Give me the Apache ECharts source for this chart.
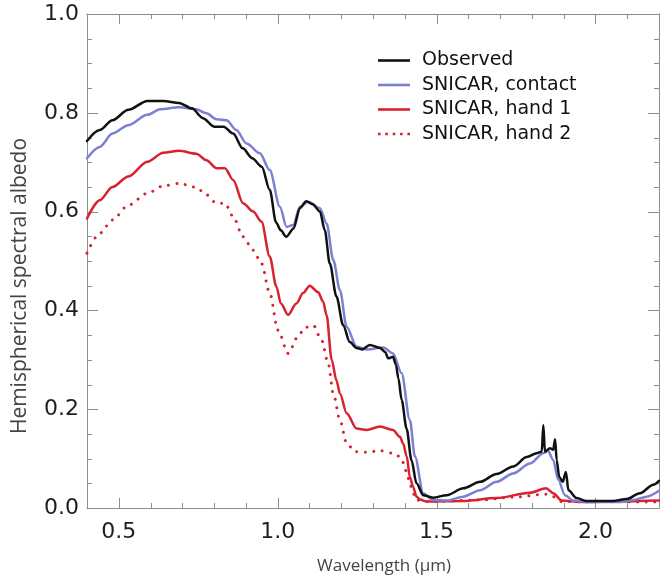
<!DOCTYPE html>
<html>
<head>
<meta charset="utf-8">
<script src="https://cdn.jsdelivr.net/npm/echarts@6/dist/echarts.min.js"></script>
<style>
  html, body { margin: 0; background: #fff; }
  #chart { width: 660px; height: 576px; }
</style>
</head>
<body>
<div id="chart"></div>
<script>
// wavelength (um) and albedo
const obsWl = [0.40, 0.44, 0.48, 0.53, 0.59, 0.64, 0.69, 0.73, 0.765, 0.80, 0.83, 0.86, 0.89, 0.92, 0.95, 0.975, 0.995, 1.01, 1.027, 1.05, 1.07, 1.09, 1.11, 1.133, 1.148, 1.164, 1.185, 1.206, 1.227, 1.248, 1.265, 1.29, 1.322, 1.338, 1.348, 1.363, 1.372, 1.38, 1.39, 1.406, 1.421, 1.437, 1.458, 1.489, 1.532, 1.584, 1.637, 1.689, 1.741, 1.784, 1.815, 1.831, 1.836, 1.841, 1.857, 1.867, 1.873, 1.878, 1.886, 1.897, 1.907, 1.915, 1.941, 1.972, 2.055, 2.098, 2.14, 2.182, 2.2];
const obsAlb = [0.743, 0.765, 0.785, 0.806, 0.824, 0.824, 0.820, 0.809, 0.789, 0.772, 0.772, 0.758, 0.728, 0.708, 0.691, 0.644, 0.578, 0.562, 0.549, 0.566, 0.607, 0.621, 0.615, 0.600, 0.563, 0.495, 0.428, 0.370, 0.336, 0.324, 0.321, 0.330, 0.324, 0.316, 0.303, 0.306, 0.290, 0.262, 0.219, 0.160, 0.097, 0.050, 0.026, 0.021, 0.026, 0.040, 0.053, 0.069, 0.084, 0.103, 0.111, 0.114, 0.168, 0.114, 0.121, 0.118, 0.139, 0.097, 0.063, 0.053, 0.073, 0.036, 0.020, 0.014, 0.014, 0.018, 0.030, 0.047, 0.055];

const contactWl = [0.40, 0.44, 0.48, 0.53, 0.59, 0.63, 0.69, 0.744, 0.776, 0.807, 0.839, 0.87, 0.902, 0.944, 0.975, 1.007, 1.028, 1.049, 1.07, 1.096, 1.133, 1.154, 1.175, 1.196, 1.217, 1.248, 1.28, 1.332, 1.363, 1.39, 1.416, 1.432, 1.458, 1.489, 1.532, 1.584, 1.637, 1.689, 1.741, 1.794, 1.836, 1.851, 1.867, 1.883, 1.904, 1.93, 1.972, 2.077, 2.119, 2.161, 2.2];
const contactAlb = [0.708, 0.731, 0.758, 0.775, 0.796, 0.807, 0.811, 0.807, 0.799, 0.787, 0.785, 0.765, 0.738, 0.718, 0.684, 0.610, 0.569, 0.573, 0.610, 0.620, 0.607, 0.576, 0.502, 0.441, 0.367, 0.327, 0.321, 0.325, 0.313, 0.273, 0.178, 0.104, 0.030, 0.016, 0.015, 0.023, 0.036, 0.053, 0.070, 0.090, 0.111, 0.116, 0.097, 0.057, 0.026, 0.015, 0.012, 0.012, 0.016, 0.023, 0.035];

const hand1Wl = [0.40, 0.44, 0.48, 0.53, 0.59, 0.64, 0.69, 0.744, 0.776, 0.807, 0.834, 0.86, 0.891, 0.923, 0.949, 0.975, 0.996, 1.01, 1.033, 1.059, 1.08, 1.101, 1.127, 1.143, 1.154, 1.17, 1.185, 1.196, 1.217, 1.248, 1.28, 1.322, 1.363, 1.385, 1.395, 1.406, 1.416, 1.426, 1.437, 1.448, 1.469, 1.584, 1.689, 1.794, 1.845, 1.867, 1.894, 1.951, 2.2];
const hand1Alb = [0.586, 0.623, 0.650, 0.671, 0.701, 0.719, 0.723, 0.717, 0.704, 0.688, 0.688, 0.664, 0.617, 0.600, 0.580, 0.509, 0.448, 0.414, 0.391, 0.414, 0.435, 0.450, 0.437, 0.418, 0.390, 0.300, 0.258, 0.232, 0.192, 0.161, 0.158, 0.165, 0.158, 0.144, 0.130, 0.105, 0.063, 0.043, 0.023, 0.017, 0.013, 0.014, 0.020, 0.031, 0.040, 0.030, 0.015, 0.012, 0.015];

const hand2Wl = [0.40, 0.44, 0.48, 0.53, 0.59, 0.64, 0.69, 0.744, 0.776, 0.807, 0.834, 0.86, 0.891, 0.923, 0.949, 0.975, 1.001, 1.033, 1.064, 1.085, 1.112, 1.138, 1.159, 1.175, 1.196, 1.217, 1.243, 1.28, 1.322, 1.363, 1.385, 1.395, 1.406, 1.416, 1.426, 1.437, 1.479, 1.637, 1.741, 1.845, 1.867, 1.894, 2.2];
const hand2Alb = [0.516, 0.556, 0.583, 0.613, 0.637, 0.652, 0.657, 0.649, 0.634, 0.617, 0.617, 0.590, 0.549, 0.522, 0.495, 0.435, 0.360, 0.313, 0.347, 0.365, 0.370, 0.340, 0.293, 0.232, 0.178, 0.131, 0.114, 0.113, 0.116, 0.111, 0.104, 0.092, 0.072, 0.050, 0.030, 0.016, 0.013, 0.016, 0.022, 0.028, 0.023, 0.013, 0.012];

// tick positions
const xMajorTicks = [0.5, 1.0, 1.5, 2.0];
const xMinorTicks = [0.6, 0.7, 0.8, 0.9, 1.1, 1.2, 1.3, 1.4, 1.6, 1.7, 1.8, 1.9, 2.1];
const yMajorTicks = [0.2, 0.4, 0.6, 0.8];
const yMinorTicks = [0.05, 0.1, 0.15, 0.25, 0.3, 0.35, 0.45, 0.5, 0.55, 0.65, 0.7, 0.75, 0.85, 0.9, 0.95];
const yLabels = [0, 0.2, 0.4, 0.6, 0.8, 1.0];

const X_MIN = 0.4, X_MAX = 2.2, Y_MIN = 0, Y_MAX = 1.0;

const pairs = (xs, ys) => xs.map((x, i) => [x, ys[i]]);

const axisGray = "#8c8c8c";
const tickGray = "#8c8c8c";
const labelFont = "DejaVu Sans";
const tickLabel = {
  formatter: (v) => v.toFixed(1),
  fontFamily: labelFont,
  fontSize: 22,
  color: "#1e1e1e",
};

function boxAxis(dim, position) {
  const isX = dim === "x";
  return {
    type: "value",
    position: position,
    min: isX ? X_MIN : Y_MIN,
    max: isX ? X_MAX : Y_MAX,
    axisLine: { show: true, onZero: false, lineStyle: { color: axisGray, width: 1 } },
    axisTick: { show: false },
    axisLabel: { show: false },
    splitLine: { show: false },
  };
}

const bottomAxis = boxAxis("x", "bottom");
bottomAxis.axisLabel = Object.assign({ show: true, customValues: xMajorTicks, margin: 13 }, tickLabel);

const leftAxis = boxAxis("y", "left");
leftAxis.axisLabel = Object.assign({ show: true, customValues: yLabels, margin: 8 }, tickLabel);

// inward ticks on all four sides of the box, placed through the axis scales
function tickSeries(dim, values, len) {
  const isX = dim === "x";
  return {
    type: "custom",
    silent: true,
    z: 1,
    xAxisIndex: 0,
    yAxisIndex: 0,
    data: values.map((v) => (isX ? [v, Y_MIN] : [X_MIN, v])),
    renderItem: (params, api) => {
      const v = api.value(isX ? 0 : 1);
      const style = { stroke: tickGray, lineWidth: 1 };
      if (isX) {
        const b = api.coord([v, Y_MIN]);
        const t = api.coord([v, Y_MAX]);
        const x = Math.round(b[0]) + 0.5;
        return {
          type: "group",
          children: [
            { type: "line", shape: { x1: x, y1: b[1], x2: x, y2: b[1] - len }, style: style },
            { type: "line", shape: { x1: x, y1: t[1], x2: x, y2: t[1] + len }, style: style },
          ],
        };
      }
      const l = api.coord([X_MIN, v]);
      const r = api.coord([X_MAX, v]);
      const y = Math.round(l[1]) + 0.5;
      return {
        type: "group",
        children: [
          { type: "line", shape: { x1: l[0], y1: y, x2: l[0] + len, y2: y }, style: style },
          { type: "line", shape: { x1: r[0], y1: y, x2: r[0] - len, y2: y }, style: style },
        ],
      };
    },
  };
}

const solidIcon = "path://M0,0H32V2.6H0Z";
const dotIcon = "path://M0,0h2.6v2.6h-2.6zM7.3,0h2.6v2.6h-2.6zM14.7,0h2.6v2.6h-2.6zM22.1,0h2.6v2.6h-2.6zM29.4,0h2.6v2.6h-2.6z";

const lineSeries = (name, xs, ys, color, type) => ({
  name: name,
  type: "line",
  xAxisIndex: 0,
  yAxisIndex: 0,
  data: pairs(xs, ys),
  symbol: "none",
  showSymbol: false,
  smooth: 0.3,
  smoothMonotone: "x",
  lineStyle: { color: color, width: type === "solid" ? 2.5 : 3, type: type, cap: "round" },
  itemStyle: { color: color },
  z: 3,
});

const myChart = echarts.init(document.getElementById("chart"));
myChart.setOption({
  animation: false,
  grid: { left: 87, right: 1, top: 14, bottom: 68, outerBoundsMode: "none" },
  // axis titles
  graphic: [
    {
      type: "text",
      x: 384,
      y: 566,
      style: {
        text: "Wavelength (\u00b5m)",
        fontFamily: "Open Sans",
        fontSize: 17,
        fill: "#444",
        align: "center",
        verticalAlign: "middle",
      },
    },
    {
      type: "text",
      x: 20,
      y: 286,
      rotation: Math.PI / 2,
      style: {
        text: "Hemispherical spectral albedo",
        fontFamily: "Open Sans",
        fontSize: 21,
        fill: "#444",
        align: "center",
        verticalAlign: "middle",
      },
    },
  ],
  legend: {
    orient: "vertical",
    left: 373,
    top: 46,
    itemWidth: 32,
    itemHeight: 2.6,
    itemGap: 5.5,
    textStyle: {
      fontFamily: labelFont,
      fontSize: 19,
      color: "#111",
      padding: [0, 0, 0, 7],
    },
    data: [
      { name: "Observed", icon: solidIcon },
      { name: "SNICAR, contact", icon: solidIcon },
      { name: "SNICAR, hand 1", icon: solidIcon },
      { name: "SNICAR, hand 2", icon: dotIcon },
    ],
  },
  xAxis: [bottomAxis, boxAxis("x", "top")],
  yAxis: [leftAxis, boxAxis("y", "right")],
  // drawn back to front: observed ends up on top
  series: [
    tickSeries("x", xMajorTicks, 10),
    tickSeries("x", xMinorTicks, 5),
    tickSeries("y", yMajorTicks, 11),
    tickSeries("y", yMinorTicks, 5),
    lineSeries("SNICAR, hand 2", hand2Wl, hand2Alb, "#d7222f", [0.01, 8.5]),
    lineSeries("SNICAR, hand 1", hand1Wl, hand1Alb, "#d7222f", "solid"),
    lineSeries("SNICAR, contact", contactWl, contactAlb, "#7b80d3", "solid"),
    lineSeries("Observed", obsWl, obsAlb, "#111111", "solid"),
  ],
});
</script>
</body>
</html>
